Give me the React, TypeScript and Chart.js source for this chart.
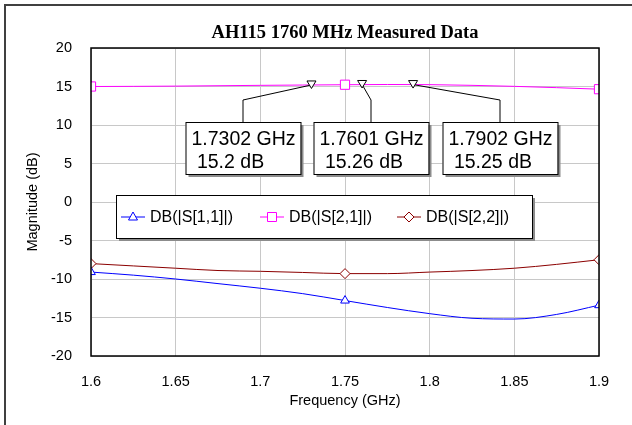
import React, { useEffect, useRef } from "react";
import { Chart, registerables } from "chart.js";

Chart.register(...registerables);

const chartTitle = "AH115 1760 MHz Measured Data";
const xAxisTitle = "Frequency (GHz)";
const yAxisTitle = "Magnitude (dB)";

const freq = [1.6, 1.625, 1.65, 1.675, 1.7, 1.725, 1.75, 1.775, 1.8, 1.825, 1.85, 1.875, 1.9];
const s11 = [-9.1, -9.5, -10.0, -10.6, -11.2, -11.9, -12.8, -13.7, -14.5, -15.1, -15.2, -14.6, -13.4];
const s21 = [15.0, 15.02, 15.05, 15.1, 15.15, 15.19, 15.23, 15.26, 15.24, 15.15, 15.02, 14.85, 14.65];
const s22 = [-8.0, -8.3, -8.6, -8.9, -9.0, -9.15, -9.3, -9.3, -9.1, -8.9, -8.6, -8.1, -7.5];
const markerIdx = [0, 6, 12];

const seriesLabels = ["DB(|S[1,1]|)", "DB(|S[2,1]|)", "DB(|S[2,2]|)"];

const xTicks = [1.6, 1.65, 1.7, 1.75, 1.8, 1.85, 1.9];
const xTickLabels = ["1.6", "1.65", "1.7", "1.75", "1.8", "1.85", "1.9"];
const yTicks = [-20, -15, -10, -5, 0, 5, 10, 15, 20];
const yTickLabels = ["-20", "-15", "-10", "-5", "0", "5", "10", "15", "20"];

const mFreq = [1.7302, 1.7601, 1.7902];
const mVal = [15.2, 15.26, 15.25];
const mFreqText = ["1.7302 GHz", "1.7601 GHz", "1.7902 GHz"];
const mValText = ["15.2 dB", "15.26 dB", "15.25 dB"];

const SANS = '"Liberation Sans", Arial, sans-serif';

function radii(n: number, r: number) {
  return Array.from({ length: n }, (_, i) => (markerIdx.includes(i) ? r : 0));
}

export default function App() {
  const ref = useRef<HTMLCanvasElement | null>(null);
  useEffect(() => {
    const canvas = ref.current!;
    const boxCenters = [243, 371, 500];
    const overlay = {
      id: "overlay",
      beforeDraw(chart: any) {
        const ctx = chart.ctx;
        ctx.save();
        ctx.fillStyle = "#ffffff";
        ctx.fillRect(0, 0, chart.width, chart.height);
        ctx.restore();
      },
      afterDatasetsDraw(chart: any) {
        const ctx = chart.ctx;
        const xs = chart.scales.x;
        const ys = chart.scales.y;
        const a = chart.chartArea;
        ctx.save();
        // plot frame
        ctx.strokeStyle = "#000";
        ctx.lineWidth = 1.5;
        ctx.strokeRect(a.left, a.top, a.right - a.left, a.bottom - a.top);

        // marker callouts
        const boxW = 115;
        const boxTop = 122;
        const boxH = 52;
        const elbowY = 100;
        for (let i = 0; i < mFreq.length; i++) {
          const px = xs.getPixelForValue(mFreq[i]);
          const py = ys.getPixelForValue(mVal[i]);
          const cx = boxCenters[i];
          ctx.strokeStyle = "#000";
          ctx.lineWidth = 1;
          ctx.beginPath();
          ctx.moveTo(px, py);
          ctx.lineTo(cx, elbowY);
          ctx.lineTo(cx, boxTop);
          ctx.stroke();
          // inverted triangle
          ctx.fillStyle = "#fff";
          ctx.beginPath();
          ctx.moveTo(px - 4.5, py - 4);
          ctx.lineTo(px + 4.5, py - 4);
          ctx.lineTo(px, py + 3.5);
          ctx.closePath();
          ctx.fill();
          ctx.stroke();
          // box shadow + box
          const bx = cx - boxW / 2;
          ctx.fillStyle = "#8c8c8c";
          ctx.fillRect(bx + 3, boxTop + 3, boxW, boxH);
          ctx.fillStyle = "#fff";
          ctx.fillRect(bx, boxTop, boxW, boxH);
          ctx.strokeStyle = "#000";
          ctx.lineWidth = 1;
          ctx.strokeRect(bx + 0.5, boxTop + 0.5, boxW, boxH);
          ctx.fillStyle = "#000";
          ctx.font = `19.5px ${SANS}`;
          ctx.textBaseline = "alphabetic";
          ctx.textAlign = "left";
          ctx.fillText(mFreqText[i], bx + 6, boxTop + 23);
          ctx.fillText(" " + mValText[i], bx + 6, boxTop + 46);
        }

        // legend
        const lx = 116, ly = 195, lw = 416, lh = 43;
        ctx.fillStyle = "#8c8c8c";
        ctx.fillRect(lx + 3, ly + 3, lw, lh);
        ctx.fillStyle = "#fff";
        ctx.fillRect(lx, ly, lw, lh);
        ctx.strokeStyle = "#000";
        ctx.lineWidth = 1;
        ctx.strokeRect(lx + 0.5, ly + 0.5, lw, lh);
        const itemX = [121, 260, 397];
        const cy = 217;
        chart.data.datasets.forEach((ds: any, i: number) => {
          const x0 = itemX[i];
          ctx.strokeStyle = ds.borderColor;
          ctx.lineWidth = 1;
          ctx.beginPath();
          ctx.moveTo(x0, cy);
          ctx.lineTo(x0 + 24, cy);
          ctx.stroke();
          ctx.fillStyle = "#fff";
          ctx.beginPath();
          const mx = x0 + 12;
          if (ds.pointStyle === "triangle") {
            ctx.moveTo(mx, cy - 5);
            ctx.lineTo(mx + 4.5, cy + 3);
            ctx.lineTo(mx - 4.5, cy + 3);
            ctx.closePath();
          } else if (ds.pointStyle === "rect") {
            ctx.rect(mx - 4.5, cy - 4.5, 9, 9);
          } else {
            ctx.moveTo(mx, cy - 5);
            ctx.lineTo(mx + 5, cy);
            ctx.lineTo(mx, cy + 5);
            ctx.lineTo(mx - 5, cy);
            ctx.closePath();
          }
          ctx.fill();
          ctx.stroke();
          ctx.fillStyle = "#000";
          ctx.font = `16px ${SANS}`;
          ctx.textBaseline = "middle";
          ctx.fillText(ds.label, x0 + 29, cy + 1);
        });

        // titles
        ctx.fillStyle = "#000";
        ctx.textAlign = "center";
        ctx.textBaseline = "middle";
        ctx.font = `bold 18.5px "Liberation Serif", "Times New Roman", serif`;
        ctx.fillText(chartTitle, (a.left + a.right) / 2, 33);
        ctx.font = `14.5px ${SANS}`;
        ctx.fillText(xAxisTitle, (a.left + a.right) / 2, 401);
        ctx.save();
        ctx.translate(33, (a.top + a.bottom) / 2);
        ctx.rotate(-Math.PI / 2);
        ctx.fillText(yAxisTitle, 0, 0);
        ctx.restore();

        // outer frame
        ctx.strokeStyle = "#404040";
        ctx.lineWidth = 2;
        ctx.strokeRect(5, 5, 700, 500);
        ctx.restore();
      },
    };

    const mk = (v: number[]) => freq.map((f, i) => ({ x: f, y: v[i] }));
    const chart = new Chart(canvas, {
      type: "line",
      data: {
        datasets: [
          {
            label: seriesLabels[0],
            data: mk(s11),
            borderColor: "#0000ff",
            borderWidth: 1,
            pointStyle: "triangle",
            pointRadius: radii(freq.length, 5),
            pointBackgroundColor: "#fff",
            pointBorderColor: "#0000ff",
            pointBorderWidth: 1,
            cubicInterpolationMode: "monotone",
          },
          {
            label: seriesLabels[1],
            data: mk(s21),
            borderColor: "#ff00ff",
            borderWidth: 1,
            pointStyle: "rect",
            pointRadius: radii(freq.length, 6.5),
            pointBackgroundColor: "#fff",
            pointBorderColor: "#ff00ff",
            pointBorderWidth: 1,
            cubicInterpolationMode: "monotone",
          },
          {
            label: seriesLabels[2],
            data: mk(s22),
            borderColor: "#8b0000",
            borderWidth: 1,
            pointStyle: "rectRot",
            pointRadius: radii(freq.length, 5),
            pointBackgroundColor: "#fff",
            pointBorderColor: "#8b0000",
            pointBorderWidth: 1,
            cubicInterpolationMode: "monotone",
          },
        ] as any,
      },
      options: {
        animation: false,
        responsive: false,
        maintainAspectRatio: false,
        layout: { padding: { top: 48, right: 33, left: 0, bottom: 0 } },
        plugins: {
          legend: { display: false },
          tooltip: { enabled: false },
          title: { display: false },
        },
        scales: {
          x: {
            type: "linear",
            min: 1.6,
            max: 1.9,
            afterFit: (s: any) => {
              s.height = 69;
            },
            afterBuildTicks: (s: any) => {
              s.ticks = xTicks.map((v) => ({ value: v }));
            },
            ticks: {
              callback: (_v: any, i: number) => xTickLabels[i],
              font: { size: 14.5, family: SANS },
              color: "#000",
              padding: 17,
              autoSkip: false,
              maxRotation: 0,
            },
            grid: { color: "#c8c8c8", lineWidth: 1, drawTicks: false },
            border: { display: false },
          },
          y: {
            type: "linear",
            min: -20,
            max: 20,
            afterFit: (s: any) => {
              s.width = 91;
            },
            afterBuildTicks: (s: any) => {
              s.ticks = yTicks.map((v) => ({ value: v }));
            },
            ticks: {
              callback: (_v: any, i: number) => yTickLabels[i],
              font: { size: 14.5, family: SANS },
              color: "#000",
              padding: 19,
              autoSkip: false,
            },
            grid: { color: "#c8c8c8", lineWidth: 1, drawTicks: false },
            border: { display: false },
          },
        },
      } as any,
      plugins: [overlay],
    });
    return () => chart.destroy();
  }, []);

  return (
    <div style={{ position: "fixed", left: 0, top: 0, width: 632, height: 425 }}>
      <canvas ref={ref} width={632} height={425} style={{ width: 632, height: 425 }} />
    </div>
  );
}
